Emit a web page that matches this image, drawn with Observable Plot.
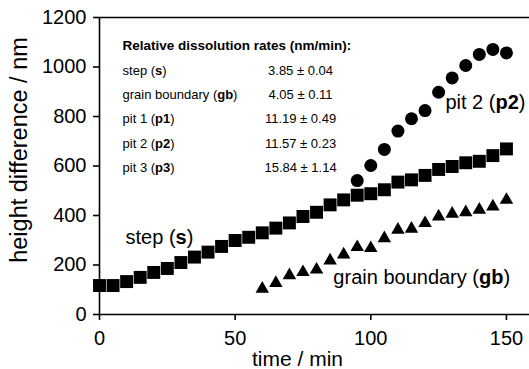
<!DOCTYPE html>
<html>
<head>
<meta charset="utf-8">
<script src="https://cdn.jsdelivr.net/npm/d3@7"></script>
<script src="https://cdn.jsdelivr.net/npm/@observablehq/plot@0.6"></script>
<style>
  html, body { margin: 0; padding: 0; background: #fff; }
  #chart { width: 529px; height: 369px; }
</style>
</head>
<body>
<div id="chart"></div>
<script>
// ---- data ----
const stepTime = [0,5,10,15,20,25,30,35,40,45,50,55,60,65,70,75,80,85,90,95,100,105,110,115,120,125,130,135,140,145,150];
const stepHeight = [117,117,133,150,170,186,210,232,252,275,299,312,330,349,370,396,413,443,463,482,488,504,535,544,562,586,598,613,619,642,669];

const gbTime = [60,65,70,75,80,85,90,95,100,105,110,115,120,125,130,135,140,145,150];
const gbHeight = [104,127,158,171,181,218,242,272,268,308,342,346,369,396,407,413,423,436,463];

const p2Time = [95,100,105,110,115,120,125,130,135,140,145,150];
const p2Height = [541,602,667,741,791,824,898,956,1006,1051,1071,1057];

const xTicks = [0, 50, 100, 150];
const yTicks = [0, 200, 400, 600, 800, 1000, 1200];

const tableTitle = "**Relative dissolution rates (nm/min):**";
const rateNames = ["step (**s**)", "grain boundary (**gb**)", "pit 1 (**p1**)", "pit 2 (**p2**)", "pit 3 (**p3**)"];
const rateValues = ["3.85 \u00b1 0.04", "4.05 \u00b1 0.11", "11.19 \u00b1 0.49", "11.57 \u00b1 0.23", "15.84 \u00b1 1.14"];
const rateRowY = [986, 889, 792, 691, 594];

const seriesLabels = ["step (**s**)", "grain boundary (**gb**)", "pit 2 (**p2**)"];
const seriesLabelX = [9.6, 86.2, 127.5];
const seriesLabelY = [311, 151, 857];

const xTitle = "time / min";
const yTitle = "height difference / nm";

// ---- build tables ----
const step = stepTime.map((t, i) => ({t, h: stepHeight[i]}));
const gb = gbTime.map((t, i) => ({t, h: gbHeight[i]}));
const p2 = p2Time.map((t, i) => ({t, h: p2Height[i]}));
const rows = rateNames.map((n, i) => ({n, v: rateValues[i], y: rateRowY[i]}));
const labels = seriesLabels.map((s, i) => ({s, x: seriesLabelX[i], y: seriesLabelY[i]}));

const font = "'Liberation Sans', Arial, Helvetica, sans-serif";

const chart = Plot.plot({
  width: 529,
  height: 369,
  marginLeft: 99,
  marginRight: 0,
  marginTop: 17,
  marginBottom: 55,
  style: {fontFamily: font, color: "#000", background: "#fff", overflow: "visible"},
  x: {domain: [0, 158.5]},
  y: {domain: [0, 1200]},
  marks: [
    Plot.ruleY([0, 1200], {stroke: "#000", strokeWidth: 1.6}),
    Plot.ruleX([0], {stroke: "#000", strokeWidth: 1.6}),
    Plot.axisX({ticks: xTicks, tickFormat: d => String(d), tickSize: 6, tickPadding: 10, fontSize: 20, label: null, strokeWidth: 1.6}),
    Plot.axisY({ticks: yTicks, tickFormat: d => String(d), tickSize: 6, tickPadding: 7, fontSize: 20, label: null, strokeWidth: 1.6}),
    Plot.text([xTitle], {frameAnchor: "bottom", textAnchor: "middle", dx: -17, dy: 51, fontSize: 21, lineAnchor: "bottom"}),
    Plot.text([yTitle], {frameAnchor: "left", textAnchor: "middle", lineAnchor: "middle", rotate: -90, dx: -80, dy: -16, fontSize: 23.5}),
    Plot.dot(step, {x: "t", y: "h", symbol: "square", r: 7.3, fill: "#000", stroke: "none"}),
    Plot.dot(gb, {x: "t", y: "h", symbol: "triangle", r: 5, fill: "#000", stroke: "none"}),
    Plot.dot(p2, {x: "t", y: "h", symbol: "circle", r: 6.5, fill: "#000", stroke: "none"}),
    Plot.text([tableTitle], {x: 8.5, y: 1087, textAnchor: "start", fontSize: 13.5}),
    Plot.text(rows, {x: 8.5, y: "y", text: "n", textAnchor: "start", fontSize: 13}),
    Plot.text(rows, {x: 74.1, y: "y", text: "v", textAnchor: "middle", fontSize: 13}),
    Plot.text(labels, {x: "x", y: "y", text: "s", textAnchor: "start", fontSize: 20})
  ]
});

// Turn **bold** markers into bold tspans (text stays real text)
chart.querySelectorAll("text").forEach(t => {
  const s = t.textContent;
  if (!s.includes("**")) return;
  const parts = s.split("**");
  while (t.firstChild) t.removeChild(t.firstChild);
  parts.forEach((p, i) => {
    if (!p) return;
    const ts = document.createElementNS("http://www.w3.org/2000/svg", "tspan");
    ts.textContent = p;
    if (i % 2 === 1) ts.setAttribute("font-weight", "bold");
    t.appendChild(ts);
  });
});

document.getElementById("chart").appendChild(chart);
</script>
</body>
</html>
